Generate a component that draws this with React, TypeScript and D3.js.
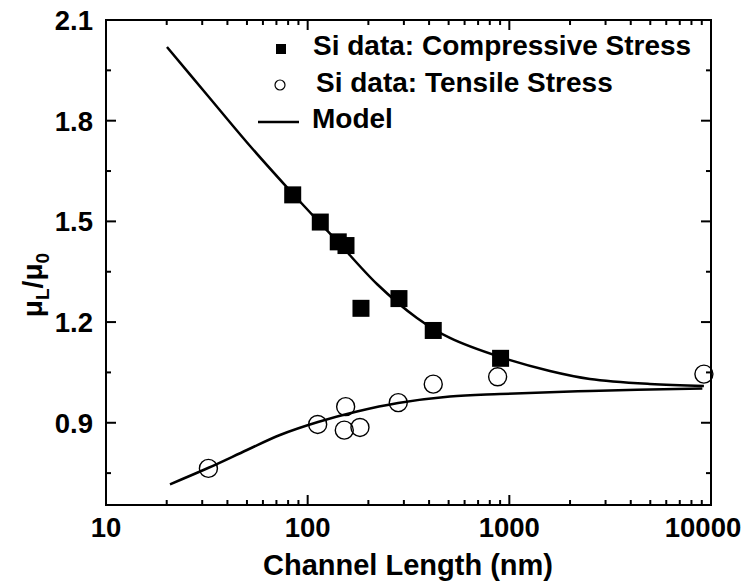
import React from "react";
import * as d3 from "d3";

// Channel length (nm) and normalized mobility for the measured devices
const compressiveLength = [84.3, 115.5, 141.8, 154.9, 183.8, 283.6, 419.5, 905];
const compressiveMobility = [1.579, 1.498, 1.439, 1.428, 1.241, 1.27, 1.175, 1.092];

const tensileLength = [32.2, 112.1, 154.3, 151.9, 181.7, 281.3, 419.5, 875, 9222];
const tensileMobility = [0.764, 0.895, 0.948, 0.878, 0.886, 0.96, 1.015, 1.037, 1.045];

// Model curves
const modelCompLength = [20.06, 32.05, 51.8, 84.6, 115.1, 141.3, 220.6, 348.3, 507.6, 898.4, 1589, 2509, 4977, 9222];
const modelCompMobility = [2.0196, 1.8736, 1.7246, 1.5816, 1.4952, 1.4386, 1.3134, 1.2122, 1.1526, 1.096, 1.0542, 1.0304, 1.0155, 1.0095];

const modelTenLength = [20.76, 32.05, 50.0, 72.9, 112.5, 175.6, 280.8, 507.6, 898.4, 2509, 9060];
const modelTenMobility = [0.7167, 0.7652, 0.8189, 0.8636, 0.9023, 0.9335, 0.9588, 0.9783, 0.9857, 0.9946, 1.0021];

const xMajorTicks = [10, 100, 1000, 10000];
const yMajorTicks = [0.9, 1.2, 1.5, 1.8, 2.1];
const yMinorTicks = [0.75, 1.05, 1.35, 1.65, 1.95];

const legendLabels = ["Si data: Compressive Stress", "Si data: Tensile Stress", "Model"];

const W = 747;
const H = 583;
const L = 106, R = 711, T = 20, B = 505;
const FONT = "'Liberation Sans', Arial, Helvetica, sans-serif";

export default function App() {
  const x = d3.scaleLog().domain([10, 10000]).range([L, R]);
  const y = d3.scaleLinear().domain([0.655, 2.1]).range([B, T]);

  const xMinor: number[] = [];
  for (const dec of [10, 100, 1000]) for (let k = 2; k <= 9; k++) xMinor.push(dec * k);

  const line = d3
    .line<[number, number]>()
    .x((d) => x(d[0]))
    .y((d) => y(d[1]))
    .curve(d3.curveCatmullRom.alpha(0.5));

  const compModel = modelCompLength.map((v, i) => [v, modelCompMobility[i]] as [number, number]);
  const tenModel = modelTenLength.map((v, i) => [v, modelTenMobility[i]] as [number, number]);

  const sq = 17;
  const cr = 9;
  const major = 10;
  const minor = 5;

  return (
    <svg
      width={W}
      height={H}
      style={{ position: "absolute", left: 0, top: 0, background: "#fff" }}
      fontFamily={FONT}
    >
      {/* model curves */}
      <path d={line(compModel) || ""} fill="none" stroke="#000" strokeWidth={2.5} />
      <path d={line(tenModel) || ""} fill="none" stroke="#000" strokeWidth={2.5} />

      {/* compressive data */}
      {compressiveLength.map((v, i) => (
        <rect
          key={"c" + i}
          x={x(v) - sq / 2}
          y={y(compressiveMobility[i]) - sq / 2}
          width={sq}
          height={sq}
          fill="#000"
        />
      ))}
      {/* tensile data */}
      {tensileLength.map((v, i) => (
        <circle
          key={"t" + i}
          cx={x(v)}
          cy={y(tensileMobility[i])}
          r={cr}
          fill="none"
          stroke="#000"
          strokeWidth={1.4}
        />
      ))}

      {/* frame */}
      <rect x={L} y={T} width={R - L} height={B - T} fill="none" stroke="#000" strokeWidth={2} />

      {/* x ticks, bottom and top */}
      {xMajorTicks.map((v) => (
        <g key={"xm" + v}>
          <line x1={x(v)} x2={x(v)} y1={B} y2={B - major} stroke="#000" strokeWidth={2} />
          <line x1={x(v)} x2={x(v)} y1={T} y2={T + major} stroke="#000" strokeWidth={2} />
          <text
            x={Math.min(x(v), W - 44)}
            y={537}
            textAnchor="middle"
            fontSize={27.5}
            fontWeight="bold"
          >
            {v}
          </text>
        </g>
      ))}
      {xMinor.map((v) => (
        <g key={"xn" + v}>
          <line x1={x(v)} x2={x(v)} y1={B} y2={B - minor} stroke="#000" strokeWidth={2} />
          <line x1={x(v)} x2={x(v)} y1={T} y2={T + minor} stroke="#000" strokeWidth={2} />
        </g>
      ))}

      {/* y ticks, left and right */}
      {yMajorTicks.map((v) => (
        <g key={"ym" + v}>
          <line x1={L} x2={L + major} y1={y(v)} y2={y(v)} stroke="#000" strokeWidth={2} />
          <line x1={R} x2={R - major} y1={y(v)} y2={y(v)} stroke="#000" strokeWidth={2} />
          <text
            x={93}
            y={y(v)}
            dy="0.36em"
            textAnchor="end"
            fontSize={27.5}
            fontWeight="bold"
          >
            {v.toFixed(1)}
          </text>
        </g>
      ))}
      {yMinorTicks.map((v) => (
        <g key={"yn" + v}>
          <line x1={L} x2={L + minor} y1={y(v)} y2={y(v)} stroke="#000" strokeWidth={2} />
          <line x1={R} x2={R - minor} y1={y(v)} y2={y(v)} stroke="#000" strokeWidth={2} />
        </g>
      ))}

      {/* axis titles */}
      <text x={408} y={575} textAnchor="middle" fontSize={29} fontWeight="bold">
        Channel Length (nm)
      </text>
      <text
        transform="translate(42,285) rotate(-90)"
        textAnchor="middle"
        fontSize={28}
        fontWeight="bold"
      >
        μ<tspan fontSize={19} dy={7}>L</tspan>
        <tspan dy={-7}>/μ</tspan>
        <tspan fontSize={19} dy={7}>0</tspan>
      </text>

      {/* legend */}
      <rect x={281 - 5} y={49 - 5} width={10} height={10} fill="#000" />
      <text x={313} y={55} fontSize={28} fontWeight="bold">
        {legendLabels[0]}
      </text>
      <circle cx={280} cy={85} r={5} fill="none" stroke="#000" strokeWidth={1.2} />
      <text x={316} y={92} fontSize={28} fontWeight="bold">
        {legendLabels[1]}
      </text>
      <line x1={258} x2={299} y1={122} y2={122} stroke="#000" strokeWidth={2.5} />
      <text x={312} y={128} fontSize={28} fontWeight="bold">
        {legendLabels[2]}
      </text>
    </svg>
  );
}
